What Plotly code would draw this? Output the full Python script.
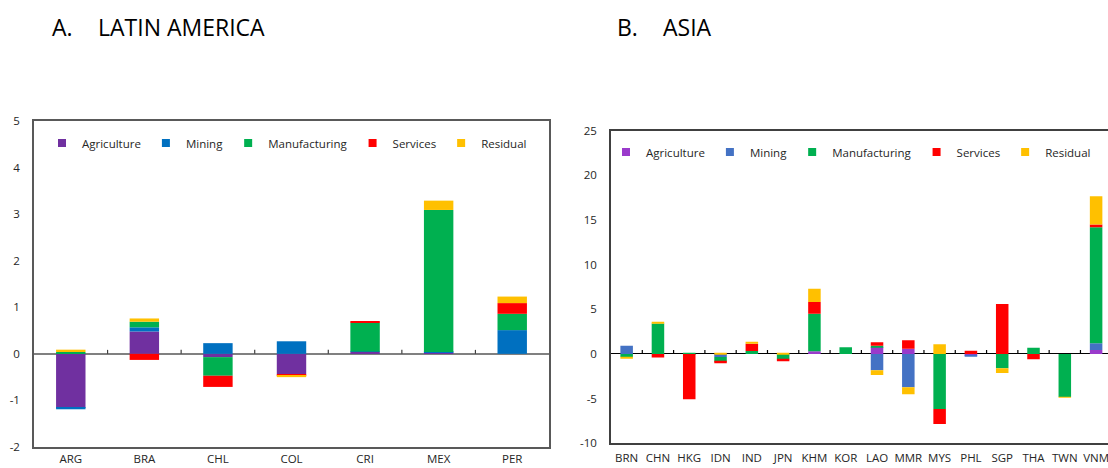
import plotly.graph_objects as go

# ---- Latin America: contributions by sector (percentage points) ----
la_countries = ["ARG", "BRA", "CHL", "COL", "CRI", "MEX", "PER"]
la_agriculture = [-1.16, 0.48, -0.07, -0.44, 0.04, 0.02, 0.00]
la_mining = [-0.03, 0.09, 0.23, 0.27, 0.01, 0.02, 0.51]
la_manufacturing = [0.04, 0.12, -0.40, 0.00, 0.62, 3.05, 0.35]
la_services = [0.00, -0.13, -0.24, -0.03, 0.03, 0.00, 0.23]
la_residual = [0.05, 0.07, 0.00, -0.03, 0.00, 0.20, 0.14]
la_ticks = [5, 4, 3, 2, 1, 0, -1, -2]
la_ticktext = ["5", "4", "3", "2", "1", "0", "-1", "-2"]

# ---- Asia: contributions by sector (percentage points) ----
as_countries = ["BRN", "CHN", "HKG", "IDN", "IND", "JPN", "KHM", "KOR",
                "LAO", "MMR", "MYS", "PHL", "SGP", "THA", "TWN", "VNM"]
as_agriculture = [0.00, 0.00, 0.00, 0.00, 0.00, 0.00, 0.30, 0.00,
                  0.78, 0.60, 0.00, -0.10, 0.00, 0.00, 0.00, 0.45]
as_mining = [0.93, 0.00, 0.00, -0.34, 0.00, 0.00, 0.00, 0.00,
             -1.83, -3.73, 0.00, -0.15, 0.00, 0.00, 0.00, 0.75]
as_manufacturing = [-0.35, 3.40, 0.05, -0.52, 0.34, -0.60, 4.21, 0.75,
                    0.15, 0.00, -6.16, 0.00, -1.60, 0.71, -4.81, 12.99]
as_services = [0.00, -0.40, -5.07, -0.19, 0.82, -0.22, 1.31, 0.00,
               0.37, 0.93, -1.68, 0.37, 5.60, -0.60, 0.00, 0.30]
as_residual = [-0.15, 0.22, 0.00, 0.05, 0.18, 0.05, 1.49, 0.00,
               -0.52, -0.78, 1.08, 0.00, -0.52, 0.00, -0.05, 3.17]
as_ticks = [25, 20, 15, 10, 5, 0, -5, -10]
as_ticktext = ["25", "20", "15", "10", "5", "0", "-5", "-10"]

sector_names = ["Agriculture", "Mining", "Manufacturing", "Services", "Residual"]
la_colors = ["#7030A0", "#0070C0", "#00B050", "#FF0000", "#FFC000"]
as_colors = ["#9A3ACB", "#4472C4", "#00B050", "#FF0000", "#FFC000"]

FONT = "Open Sans"
W, H = 1108, 468

fig = go.Figure()


def add_panel(countries, series, colors, xa, ya, legend_id, group_prefix):
    for name, vals, col in zip(sector_names, series, colors):
        grp = group_prefix + name
        fig.add_trace(go.Bar(x=countries, y=vals, name=name, marker_color=col,
                             marker_line_width=0, xaxis=xa, yaxis=ya,
                             legendgroup=grp, showlegend=False))
        # small square key for the legend
        fig.add_trace(go.Scatter(x=[None], y=[None], mode="markers", name=name,
                                 marker=dict(symbol="square", size=8, color=col),
                                 xaxis=xa, yaxis=ya, legend=legend_id,
                                 legendgroup=grp, hoverinfo="skip"))


add_panel(la_countries,
          [la_agriculture, la_mining, la_manufacturing, la_services, la_residual],
          la_colors, "x", "y", "legend", "la_")
add_panel(as_countries,
          [as_agriculture, as_mining, as_manufacturing, as_services, as_residual],
          as_colors, "x2", "y2", "legend2", "as_")


def px_x(p):
    return p / W


def px_y(p):
    return 1 - p / H


# small tick marks on the zero line at category boundaries
shapes = []
for i in range(len(la_countries) - 1):
    shapes.append(dict(type="line", xref="x", yref="y", x0=i + 0.5, x1=i + 0.5,
                       ysizemode="pixel", yanchor=0, y0=0, y1=4,
                       line=dict(color="#404040", width=1.2), layer="above"))
for i in range(len(as_countries) - 1):
    shapes.append(dict(type="line", xref="x2", yref="y2", x0=i + 0.5, x1=i + 0.5,
                       ysizemode="pixel", yanchor=0, y0=0, y1=4,
                       line=dict(color="#000000", width=1.2), layer="above"))

tickfont = dict(family=FONT, size=11.5, color="#262626")
frame_col = "#595959"
legend_font = dict(family=FONT, size=11.5, color="#262626")

fig.update_layout(
    width=W, height=H,
    margin=dict(l=0, r=0, t=0, b=0, autoexpand=False),
    paper_bgcolor="white", plot_bgcolor="white",
    barmode="relative", bargap=0.6,
    font=dict(family=FONT, color="#262626"),
    shapes=shapes,
    xaxis=dict(domain=[px_x(34), px_x(549)], anchor="y", automargin=False,
               range=[-0.5, len(la_countries) - 0.5],
               showline=True, linecolor=frame_col, linewidth=1.5, mirror=True,
               ticks="", tickfont=tickfont, tickangle=0,
               ticklabelstandoff=0, showgrid=False, zeroline=False),
    yaxis=dict(domain=[px_y(447), px_y(121)], anchor="x", automargin=False,
               range=[-2, 5], tickvals=la_ticks, ticktext=la_ticktext,
               showline=True, linecolor=frame_col, linewidth=1.5, mirror=True,
               ticks="", tickfont=tickfont, ticklabelstandoff=10,
               showgrid=False, zeroline=True, zerolinecolor="#808080",
               zerolinewidth=1.5, layer="above traces"),
    xaxis2=dict(domain=[px_x(611), 1.0], anchor="y2", automargin=False,
                range=[-0.5, 15.38],
                showline=True, linecolor="#404040", linewidth=1.5, mirror=True,
                ticks="", tickfont=tickfont, tickangle=0,
                ticklabelstandoff=3, showgrid=False, zeroline=False),
    yaxis2=dict(domain=[px_y(443.3), px_y(130.7)], anchor="x2", automargin=False,
                range=[-10, 25], tickvals=as_ticks, ticktext=as_ticktext,
                showline=True, linecolor="#404040", linewidth=1.5, mirror=False,
                ticks="", tickfont=tickfont, ticklabelstandoff=10,
                showgrid=False, zeroline=True, zerolinecolor="#000000",
                zerolinewidth=1.2, layer="above traces"),
    legend=dict(orientation="h", x=px_x(42), y=px_y(143), xanchor="left",
                yanchor="middle", traceorder="normal", bgcolor="rgba(0,0,0,0)",
                font=legend_font),
    legend2=dict(orientation="h", x=px_x(606), y=px_y(152), xanchor="left",
                 yanchor="middle", traceorder="normal", bgcolor="rgba(0,0,0,0)",
                 font=legend_font),
)

title_font = dict(family=FONT, size=23, color="#000000")
for txt, xp in [("A.", 50), ("LATIN AMERICA", 96), ("B.", 615), ("ASIA", 661)]:
    fig.add_annotation(text=txt, xref="paper", yref="paper", x=px_x(xp), y=px_y(27),
                       xanchor="left", yanchor="middle", showarrow=False,
                       font=title_font)

fig.write_html("out.html")
